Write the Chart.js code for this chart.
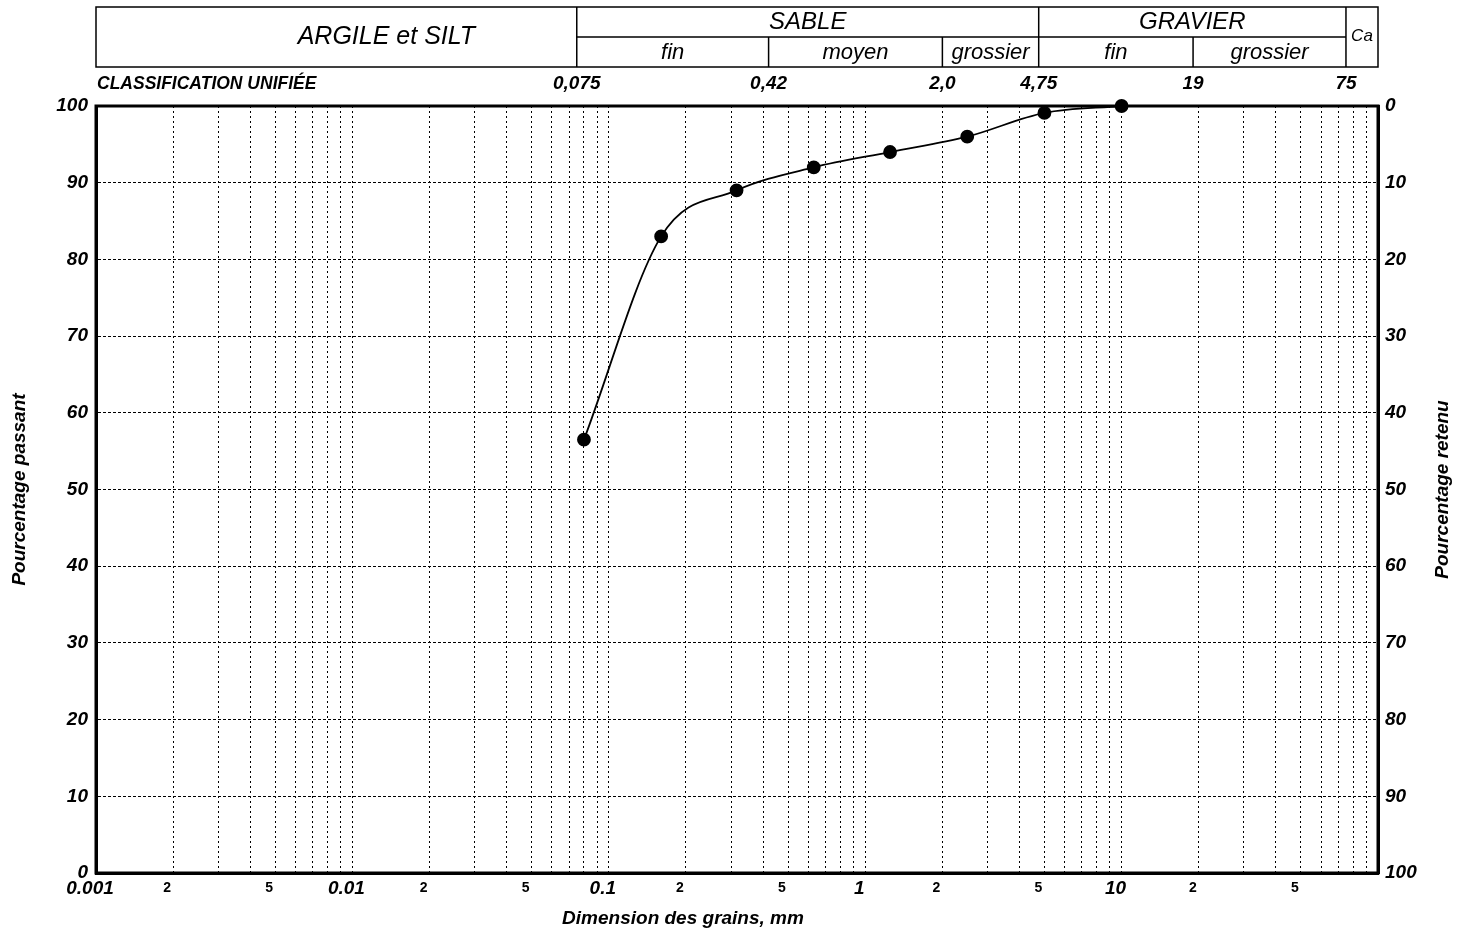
<!DOCTYPE html>
<html>
<head>
<meta charset="utf-8">
<title>Courbe granulométrique</title>
<script src="https://cdn.jsdelivr.net/npm/chart.js@4.4.1/dist/chart.umd.min.js"></script>
<style>
    html, body { margin: 0; padding: 0; background: #fff; }
    #wrap { position: relative; width: 1465px; height: 934px; }
</style>
</head>
<body>
<div id="wrap"><canvas id="granChart"></canvas></div>
<script>
// =====================
// DATA
// =====================
const sieveSizes     = [0.08, 0.16, 0.315, 0.63, 1.25, 2.5, 5, 10];   // mm
const percentPassing = [56.5, 83, 89, 92, 94, 96, 99.1, 100];

// log axis ticks
const decades       = [0.001, 0.01, 0.1, 1, 10];
const decadeLabels  = ['0.001', '0.01', '0.1', '1', '10'];
const minorSteps    = [1, 2, 3, 4, 5, 6, 7, 8, 9];
const labelledSteps = [2, 5];
const xMin = 0.001;
const xMax = 100;

// percentage ticks
const percentTicks = [0, 10, 20, 30, 40, 50, 60, 70, 80, 90, 100];

// classification header
const mainGroups     = ['ARGILE et SILT', 'SABLE', 'GRAVIER', 'Ca'];
const mainGroupEdges = [0.001, 0.075, 4.75, 75, 100];
const subGroups      = ['fin', 'moyen', 'grossier', 'fin', 'grossier'];
const subGroupEdges  = [0.075, 0.42, 2.0, 4.75, 19, 75];
const uscsBounds     = [0.075, 0.42, 2.0, 4.75, 19, 75];
const uscsLabels     = ['0,075', '0,42', '2,0', '4,75', '19', '75'];

// build x tick list + labels
const xTickValues = [];
const xTickLabels = [];
const xTickMajor  = [];
decades.forEach((d, i) => {
    minorSteps.forEach(s => {
        xTickValues.push(s * d);
        xTickMajor.push(s === 1);
        xTickLabels.push(s === 1 ? decadeLabels[i] : (labelledSteps.includes(s) ? String(s) : ''));
    });
});
xTickValues.push(xMax);
xTickMajor.push(false);
xTickLabels.push('');

const FAMILY = "'Liberation Sans', Arial, sans-serif";
Chart.defaults.font.family = FAMILY;
Chart.defaults.color = '#000';

// =====================
// HEADER + FRAME PLUGIN
// =====================
const headerPlugin = {
    id: 'header',
    afterDraw(chart) {
        const { ctx, chartArea, scales } = chart;
        const x = scales.x;
        const px = v => x.getPixelForValue(v);
        const top = chartArea.top - 99;
        const mid = chartArea.top - 69;
        const bot = chartArea.top - 39;

        ctx.save();
        ctx.strokeStyle = '#000';
        ctx.fillStyle = '#000';

        // plot frame
        ctx.lineWidth = 3;
        ctx.strokeRect(chartArea.left, chartArea.top, chartArea.right - chartArea.left, chartArea.bottom - chartArea.top);

        // header box
        ctx.lineWidth = 1.5;
        ctx.strokeRect(chartArea.left, top, chartArea.right - chartArea.left, bot - top);
        ctx.beginPath();
        mainGroupEdges.slice(1, -1).forEach(v => {
            ctx.moveTo(px(v), top);
            ctx.lineTo(px(v), bot);
        });
        ctx.moveTo(px(mainGroupEdges[1]), mid);
        ctx.lineTo(px(mainGroupEdges[3]), mid);
        subGroupEdges.slice(1, -1).forEach(v => {
            if (mainGroupEdges.includes(v)) return;
            ctx.moveTo(px(v), mid);
            ctx.lineTo(px(v), bot);
        });
        ctx.stroke();

        ctx.textAlign = 'center';
        ctx.textBaseline = 'middle';

        // main group labels
        mainGroups.forEach((label, i) => {
            const x0 = px(mainGroupEdges[i]);
            const x1 = px(mainGroupEdges[i + 1]);
            let cx = (x0 + x1) / 2;
            let cy = (top + mid) / 2;
            let size = 24;
            if (i === 0) { cx += 50; cy = (top + bot) / 2; size = 25; }
            if (i === mainGroups.length - 1) { cy = (top + bot) / 2 - 1; size = 17; }
            ctx.font = `italic ${size}px ${FAMILY}`;
            ctx.fillText(label, cx, cy);
        });

        // sub group labels
        ctx.font = `italic 22px ${FAMILY}`;
        subGroups.forEach((label, i) => {
            const cx = (px(subGroupEdges[i]) + px(subGroupEdges[i + 1])) / 2;
            ctx.fillText(label, cx, (mid + bot) / 2 + 1);
        });

        // unified classification row
        const rowY = chartArea.top - 22;
        ctx.font = `bold italic 17.5px ${FAMILY}`;
        ctx.textAlign = 'left';
        ctx.fillText('CLASSIFICATION UNIFIÉE', chartArea.left + 1, rowY);
        ctx.font = `bold italic 19px ${FAMILY}`;
        ctx.textAlign = 'center';
        uscsLabels.forEach((label, i) => {
            ctx.fillText(label, px(uscsBounds[i]), rowY);
        });

        // x axis title (sits left of the plot centre in the original)
        ctx.font = `bold italic 19px ${FAMILY}`;
        ctx.fillText('Dimension des grains, mm', chartArea.left + 587, chart.height - 15);

        // right axis title (reads bottom to top like the left one)
        ctx.translate(chart.width - 22, (chartArea.top + chartArea.bottom) / 2);
        ctx.rotate(-Math.PI / 2);
        ctx.fillText('Pourcentage retenu', 0, 0);
        ctx.restore();
    }
};

// =====================
// CHART
// =====================
const ctx = document.getElementById('granChart').getContext('2d');
new Chart(ctx, {
    type: 'line',
    data: {
        datasets: [{
            label: 'Pourcentage passant',
            data: sieveSizes.map((s, i) => ({ x: s, y: percentPassing[i] })),
            borderColor: '#000',
            borderWidth: 1.8,
            pointRadius: 6,
            pointHoverRadius: 6,
            pointBackgroundColor: '#000',
            pointBorderColor: '#000',
            cubicInterpolationMode: 'monotone',
            clip: false,
        }]
    },
    options: {
        responsive: true,
        maintainAspectRatio: false,
        animation: false,
        layout: { padding: { top: 106, left: 0, right: 0, bottom: 0 } },
        plugins: {
            legend: { display: false },
            tooltip: { enabled: false },
        },
        scales: {
            x: {
                type: 'logarithmic',
                min: xMin,
                max: xMax,
                afterBuildTicks: scale => {
                    scale.ticks = xTickValues.map(v => ({ value: v }));
                },
                afterFit: scale => { scale.height = 61; },
                ticks: {
                    autoSkip: false,
                    maxRotation: 0,
                    minRotation: 0,
                    padding: 4,
                    labelOffset: -6,
                    color: '#000',
                    callback: (value, index) => xTickLabels[index],
                    font: c => xTickMajor[c.index]
                        ? { size: 19, style: 'italic', weight: 'bold', lineHeight: 1.2 }
                        : { size: 14, weight: 'bold', lineHeight: 1.6 },
                },
                grid: { color: '#000', lineWidth: 1, drawTicks: false },
                border: { display: true, color: '#000', width: 3, dash: [2, 3] },
                title: { display: false },
            },
            y: {
                position: 'left',
                min: 0,
                max: 100,
                afterBuildTicks: scale => {
                    scale.ticks = percentTicks.map(v => ({ value: v }));
                },
                afterFit: scale => { scale.width = 96; },
                ticks: {
                    padding: 8,
                    color: '#000',
                    font: { size: 19, style: 'italic', weight: 'bold' },
                },
                grid: { color: '#000', lineWidth: 1, drawTicks: false },
                border: { display: true, color: '#000', width: 3, dash: [3, 2] },
                title: {
                    display: true,
                    text: 'Pourcentage passant',
                    font: { size: 19, style: 'italic', weight: 'bold' },
                    padding: { top: 8, bottom: 0 },
                },
            },
            y2: {
                position: 'right',
                min: 0,
                max: 100,
                reverse: true,
                afterBuildTicks: scale => {
                    scale.ticks = percentTicks.map(v => ({ value: v }));
                },
                afterFit: scale => { scale.width = 87; },
                ticks: {
                    padding: 7,
                    color: '#000',
                    font: { size: 19, style: 'italic', weight: 'bold' },
                },
                grid: { drawOnChartArea: false, drawTicks: false },
                border: { display: true, color: '#000', width: 3 },
                title: { display: false },
            },
        }
    },
    plugins: [headerPlugin]
});
</script>
</body>
</html>
